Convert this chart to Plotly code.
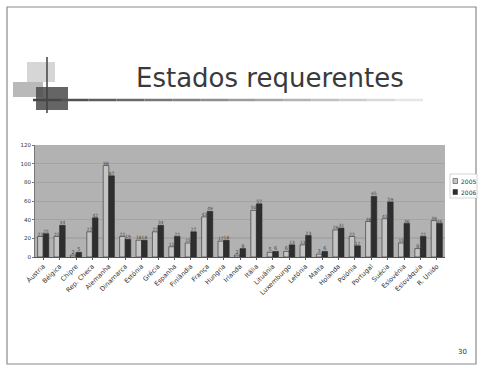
import plotly.graph_objects as go

categories = ["Áustria", "Bélgica", "Chipre", "Rep. Checa", "Alemanha", "Dinamarca",
              "Estónia", "Grécia", "Espanha", "Finlândia", "França", "Hungria",
              "Irlanda", "Itália", "Lituânia", "Luxemburgo", "Letónia", "Malta",
              "Holanda", "Polónia", "Portugal", "Suécia", "Eslovénia", "Eslováquia",
              "R. Unido"]
v2005 = [22, 22, 2, 27, 98, 22, 18, 27, 11, 15, 43, 17, 2, 50, 5, 6, 13, 3, 29, 22, 38, 41, 15, 9, 39]
v2006 = [25, 34, 5, 42, 87, 19, 18, 34, 22, 27, 49, 18, 9, 57, 6, 13, 23, 6, 31, 12, 65, 59, 36, 22, 36]
series_names = ["2005", "2006"]
series_colors = ["#c4c4c4", "#2e2e2e"]
y_ticks = [0, 20, 40, 60, 80, 100, 120]

W, H = 483, 368
def px(x): return x / W
def py(y): return 1 - y / H

fig = go.Figure()
for name, vals, col in zip(series_names, [v2005, v2006], series_colors):
    fig.add_trace(go.Bar(name=name, x=categories, y=vals,
                         marker=dict(color=col, line=dict(color="#2a2a2a", width=0.6)),
                         text=vals, textposition="outside", cliponaxis=False,
                         textfont=dict(size=5, color="#444", family="DejaVu Sans"),
                         showlegend=False))

shapes = []
annotations = []
# slide border
shapes.append(dict(type="rect", xref="paper", yref="paper", x0=px(7), x1=px(476), y0=py(364), y1=py(7),
                   line=dict(color="#8a8a8a", width=1.2), fillcolor="rgba(0,0,0,0)", layer="below"))
# decorative squares
shapes.append(dict(type="rect", xref="paper", yref="paper", x0=px(27), x1=px(55), y0=py(82), y1=py(62),
                   line=dict(width=0), fillcolor="#d6d6d6", layer="below"))
shapes.append(dict(type="rect", xref="paper", yref="paper", x0=px(13), x1=px(43), y0=py(97), y1=py(82),
                   line=dict(width=0), fillcolor="#a8a8a8", layer="below", opacity=0.8))
shapes.append(dict(type="rect", xref="paper", yref="paper", x0=px(36), x1=px(68), y0=py(110), y1=py(87),
                   line=dict(width=0), fillcolor="#4a4a4a", layer="below", opacity=0.85))
shapes.append(dict(type="line", xref="paper", yref="paper", x0=px(47), x1=px(47), y0=py(113), y1=py(57),
                   line=dict(color="#404040", width=1.5)))
# gradient title rule
n = 14
x_start, x_end = 33, 423
for i in range(n):
    a = x_start + (x_end - x_start) * i / n
    b = x_start + (x_end - x_start) * (i + 1) / n
    g = int(70 + (230 - 70) * i / (n - 1))
    shapes.append(dict(type="line", xref="paper", yref="paper", x0=px(a), x1=px(b), y0=py(100), y1=py(100),
                       line=dict(color=f"rgb({g},{g},{g})", width=2.5)))
# reference line at 20
shapes.append(dict(type="line", xref="x domain", yref="y", x0=0, x1=1, y0=20, y1=20,
                   line=dict(color="#6a6a6a", width=1), layer="below"))

# manual compact legend
shapes.append(dict(type="rect", xref="paper", yref="paper", x0=px(450), x1=px(477), y0=py(198), y1=py(174),
                   line=dict(color="#aaaaaa", width=0.5), fillcolor="white", layer="below"))
for i, (name, col) in enumerate(zip(series_names, series_colors)):
    yc = 181 + i * 11
    shapes.append(dict(type="rect", xref="paper", yref="paper", x0=px(453), x1=px(457.5),
                       y0=py(yc + 2.5), y1=py(yc - 2.5),
                       line=dict(color="#2a2a2a", width=0.5), fillcolor=col))
    annotations.append(dict(text=name, xref="paper", yref="paper", x=px(459), y=py(yc),
                            xanchor="left", yanchor="middle", showarrow=False,
                            font=dict(size=6, color="#333", family="DejaVu Sans")))

annotations += [
    dict(text="Estados requerentes", xref="paper", yref="paper", x=px(270), y=py(78),
         xanchor="center", yanchor="middle", showarrow=False,
         font=dict(size=26, color="#3a3a3a", family="DejaVu Sans")),
    dict(text="30", xref="paper", yref="paper", x=px(462), y=py(352),
         xanchor="center", yanchor="middle", showarrow=False,
         font=dict(size=7, color="#333", family="DejaVu Sans")),
]

fig.update_layout(
    width=W, height=H,
    margin=dict(l=0, r=0, t=0, b=0, autoexpand=False),
    paper_bgcolor="white",
    plot_bgcolor="#b2b2b2",
    barmode="group", bargap=0.32, bargroupgap=0.0,
    font=dict(family="DejaVu Sans", color="#333"),
    showlegend=False,
    shapes=shapes,
    annotations=annotations,
    xaxis=dict(domain=[px(35), px(445)], tickangle=-45, tickfont=dict(size=6.5, color="#333"),
               showline=True, linecolor="#555", ticks="outside", ticklen=2, tickcolor="#555",
               automargin=False),
    yaxis=dict(domain=[py(257), py(145)], range=[0, 120], tickvals=y_ticks,
               tickfont=dict(size=5.5, color="#333"), showgrid=True, gridcolor="#a4a4a4",
               gridwidth=0.5, zeroline=False, showline=True, linecolor="#777",
               ticks="outside", ticklen=2, tickcolor="#777", automargin=False),
)

fig.write_html("out.html")
